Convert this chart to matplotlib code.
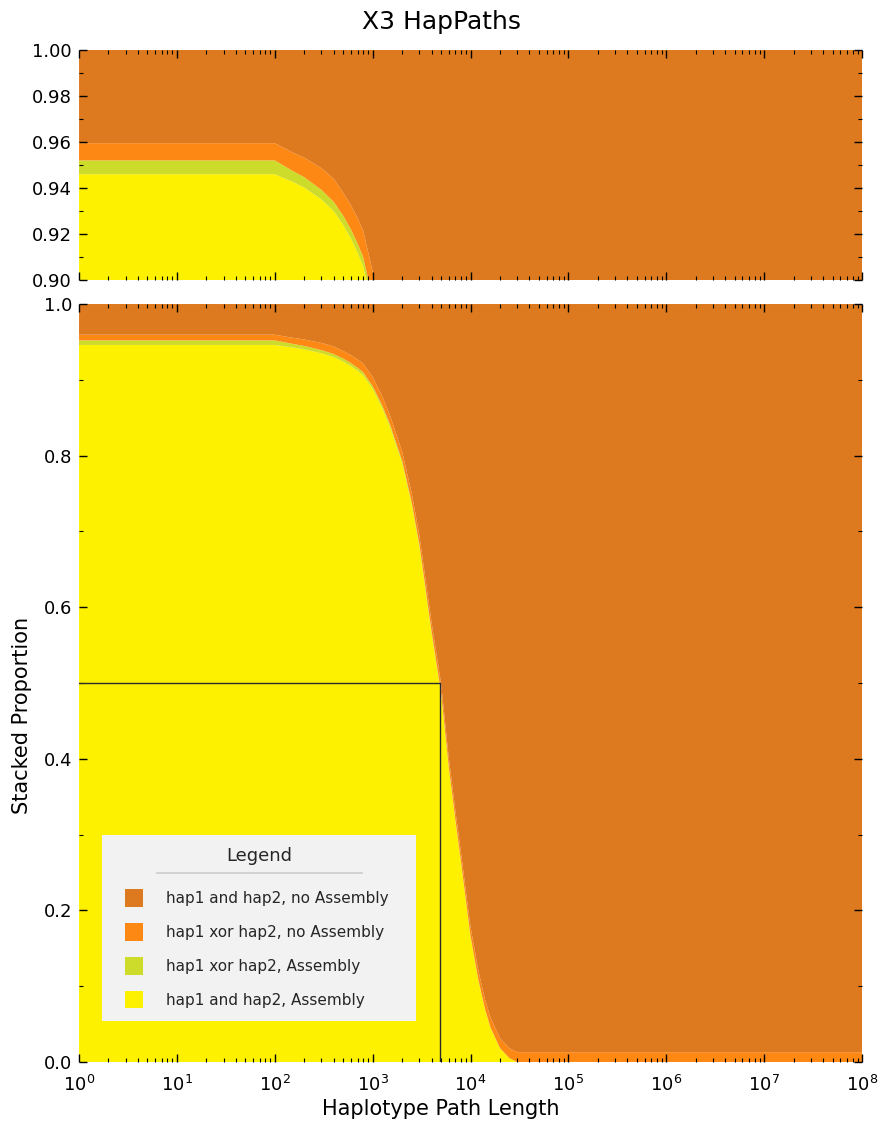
import numpy as np
import matplotlib
matplotlib.use("Agg")
import matplotlib.pyplot as plt
from matplotlib.lines import Line2D
from matplotlib.patches import Patch, Rectangle
from matplotlib.legend_handler import HandlerPatch
from matplotlib.ticker import LogLocator, MultipleLocator, NullFormatter

# Haplotype path lengths (bp) at which the stacked proportions are sampled
path_length = [1, 10, 100, 150, 200, 300, 400, 500, 600, 700, 800, 1000,
               1250, 1500, 2000, 2500, 3000, 4000, 5000, 6000, 7000, 8000,
               9000, 10000, 12000, 14000, 16000, 20000, 25000, 30000, 35000,
               1e5, 1e6, 1e7, 1e8]

both_assembly = [0.946, 0.946, 0.946, 0.9428, 0.9402, 0.935, 0.930, 0.924,
                 0.918, 0.912, 0.906, 0.888, 0.863, 0.838, 0.790, 0.736,
                 0.680, 0.565, 0.485, 0.387, 0.318, 0.262, 0.210, 0.165,
                 0.108, 0.070, 0.045, 0.018, 0.005, 0.0, 0.0,
                 0.0, 0.0, 0.0, 0.0]

xor_assembly = [0.006, 0.006, 0.006, 0.0048, 0.0045, 0.0042, 0.004, 0.004,
                0.004, 0.004, 0.004, 0.0037, 0.0035, 0.0035, 0.0033, 0.003,
                0.003, 0.0028, 0.0025, 0.002, 0.002, 0.0018, 0.0015, 0.0012,
                0.001, 0.0008, 0.0006, 0.0003, 0.0001, 0.0, 0.0,
                0.0, 0.0, 0.0, 0.0]

xor_no_assembly = [0.0075, 0.0075, 0.0075, 0.008, 0.0085, 0.0094, 0.010,
                   0.010, 0.0105, 0.011, 0.0115, 0.012, 0.012, 0.012, 0.012,
                   0.012, 0.012, 0.012, 0.012, 0.012, 0.012, 0.012, 0.012,
                   0.012, 0.012, 0.0125, 0.013, 0.013, 0.013, 0.013, 0.013,
                   0.013, 0.013, 0.013, 0.013]

both_no_assembly = [1.0 - a - b - c for a, b, c in
                    zip(both_assembly, xor_assembly, xor_no_assembly)]

median_length = 4860

series_labels = ["hap1 and hap2, Assembly", "hap1 xor hap2, Assembly",
                 "hap1 xor hap2, no Assembly", "hap1 and hap2, no Assembly"]
series_colors = ["#fdf100", "#cddb2a", "#fe8814", "#dd7a1f"]

x = np.array(path_length)
stack = [both_assembly, xor_assembly, xor_no_assembly, both_no_assembly]

fig = plt.figure(figsize=(8.82, 11.26), dpi=100)
ax_top = fig.add_axes([0.0896, 0.7513, 0.8878, 0.2043])
ax = fig.add_axes([0.0896, 0.0568, 0.8878, 0.6732])

for a in (ax_top, ax):
    a.stackplot(x, *stack, colors=series_colors, linewidth=0)
    a.set_xscale("log")
    a.set_xlim(1, 1e8)
    for s in a.spines.values():
        s.set_visible(False)
    a.xaxis.set_major_locator(LogLocator(base=10, numticks=20))
    a.xaxis.set_minor_locator(LogLocator(base=10, subs=np.arange(2, 10), numticks=200))
    a.xaxis.set_minor_formatter(NullFormatter())
    a.tick_params(axis="both", which="both", direction="in", top=True,
                  bottom=True, left=True, right=True, labelsize=13,
                  color="black")
    a.tick_params(axis="x", which="major", length=6, width=1, pad=9)
    a.tick_params(axis="x", which="minor", length=3, width=0.8)
    a.tick_params(axis="y", which="major", length=6, width=1, pad=5)
    a.tick_params(axis="y", which="minor", length=3, width=0.8)

ax_top.set_ylim(0.90, 1.00)
ax_top.yaxis.set_major_locator(MultipleLocator(0.02))
ax_top.yaxis.set_minor_locator(MultipleLocator(0.01))
ax_top.yaxis.set_major_formatter(plt.FormatStrFormatter("%.2f"))
ax_top.tick_params(axis="x", labelbottom=False)

ax.set_ylim(0.0, 1.0)
ax.yaxis.set_major_locator(MultipleLocator(0.2))
ax.yaxis.set_minor_locator(MultipleLocator(0.1))
ax.yaxis.set_major_formatter(plt.FormatStrFormatter("%.1f"))

# N50-style marker: half of the paths are shorter than this length
ax.plot([1, median_length, median_length], [0.5, 0.5, 0.0],
        color="#2b2b2b", linewidth=1.0, zorder=3)


def square_right(legend, orig_handle, xdescent, ydescent, width, height,
                 fontsize):
    """Square swatch sitting at the right end of the handle box."""
    size = height
    return Rectangle((-xdescent + width - size, -ydescent), size, size)


handles = [Patch(facecolor=c, edgecolor="none") for c in series_colors[::-1]]
leg = ax.legend(handles, series_labels[::-1], title="Legend",
                loc="upper left", bbox_to_anchor=(0.0294, 0.0488, 0.401, 0.2507),
                mode="expand", frameon=True, fancybox=False, fontsize=11,
                title_fontsize=13, handlelength=1.9, handleheight=1.42,
                handletextpad=1.5, labelspacing=1.05, borderpad=0.8,
                borderaxespad=0.0,
                handler_map={Patch: HandlerPatch(patch_func=square_right)})
leg.get_frame().set_facecolor("#f2f2f2")
leg.get_frame().set_edgecolor("none")
leg.get_frame().set_alpha(1.0)
leg._legend_box.sep = 1.55 * 11
for t in leg.get_texts():
    t.set_color("#262626")
leg.get_title().set_color("#262626")

# underline below the legend title
ax.add_line(Line2D([(157 - 79) / 783, (362 - 79) / 783],
                   [(1062 - 873) / 758, (1062 - 873) / 758],
                   transform=ax.transAxes, color="#cccccc", linewidth=1.2,
                   zorder=10))

fig.suptitle("X3 HapPaths", x=0.5, y=1 - 10 / 1126, va="top", fontsize=18)
fig.text(0.5, 1 - 1109 / 1126, "Haplotype Path Length", ha="center",
         va="center", fontsize=15)
fig.text(22 / 882, 1 - 715 / 1126, "Stacked Proportion", ha="center",
         va="center", rotation=90, fontsize=15)

fig.savefig("out.png", dpi=100)
